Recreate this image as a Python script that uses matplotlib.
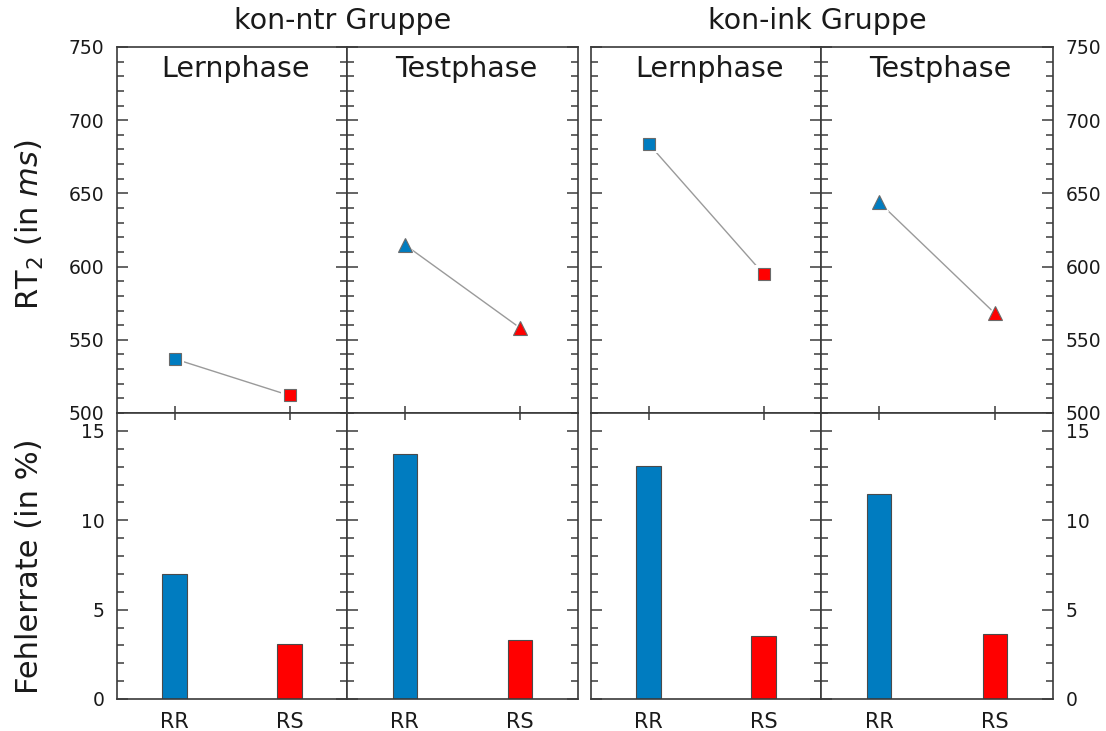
import matplotlib
matplotlib.use("Agg")
import matplotlib.pyplot as plt
from matplotlib.ticker import MultipleLocator

plt.rcParams['font.family'] = ['DejaVu Sans']
plt.rcParams['mathtext.fontset'] = 'dejavusans'

# ---- data -------------------------------------------------------------
groups = ['kon-ntr Gruppe', 'kon-ink Gruppe']
phases = ['Lernphase', 'Testphase']
conditions = ['RR', 'RS']

# reaction times RT2 (ms): [RR, RS]
rt_kon_ntr_lern = [537, 512]
rt_kon_ntr_test = [615, 558]
rt_kon_ink_lern = [684, 595]
rt_kon_ink_test = [644, 568]

# error rates (%): [RR, RS]
err_kon_ntr_lern = [7.0, 3.05]
err_kon_ntr_test = [13.7, 3.3]
err_kon_ink_lern = [13.05, 3.55]
err_kon_ink_test = [11.45, 3.65]

rt_values = [[rt_kon_ntr_lern, rt_kon_ntr_test], [rt_kon_ink_lern, rt_kon_ink_test]]
err_values = [[err_kon_ntr_lern, err_kon_ntr_test], [err_kon_ink_lern, err_kon_ink_test]]
phase_markers = {'Lernphase': 's', 'Testphase': '^'}
phase_msize = {'Lernphase': 8.0, 'Testphase': 10.0}

BLUE = '#007cc0'
RED = '#ff0000'
cond_colors = [BLUE, RED]
SPINE = '#3a3a3a'
TEXT = '#1a1a1a'

# ---- layout (pixels of a 1106 x 731 canvas) ---------------------------
W, H = 1106, 731
fig = plt.figure(figsize=(W / 100, H / 100), dpi=100)
fig.patch.set_facecolor('white')

col_edges = [(117, 347), (347, 578), (591, 821), (821, 1053)]
top_row = (47, 413)
bot_row = (413, 699)


def rect(x0, x1, y0, y1):
    return [x0 / W, 1 - y1 / H, (x1 - x0) / W, (y1 - y0) / H]


def style_axes(ax):
    for s in ax.spines.values():
        s.set_color(SPINE)
        s.set_linewidth(1.2)
    ax.tick_params(axis='both', which='both', colors=SPINE, labelcolor=TEXT,
                   width=1.1)


x = [0, 1]
for g, group in enumerate(groups):
    for p, phase in enumerate(phases):
        col = 2 * g + p
        x0, x1 = col_edges[col]
        left_col = col == 0
        right_col = col == 3

        # ---------- RT panel ----------
        ax = fig.add_axes(rect(x0, x1, *top_row))
        style_axes(ax)
        ax.set_xlim(-0.5, 1.5)
        ax.set_ylim(500, 750)
        ax.yaxis.set_major_locator(MultipleLocator(50))
        ax.yaxis.set_minor_locator(MultipleLocator(10))
        ax.set_xticks(x)
        ax.tick_params(axis='x', which='both', direction='in', bottom=True, top=False,
                       labelbottom=False, length=5)
        ax.tick_params(axis='y', which='both', direction='in', left=True, right=True,
                       labelleft=left_col, labelright=right_col, labelsize=13.5, pad=9)
        ax.tick_params(axis='y', which='major', length=8)
        ax.tick_params(axis='y', which='minor', length=5)

        vals = rt_values[g][p]
        m = phase_markers[phase]
        ms = phase_msize[phase]
        ax.plot(x, vals, color='#9a9a9a', lw=1.0, zorder=1)
        ax.plot(x, vals, ls='none', marker=m, ms=ms + 5, color='white',
                markeredgewidth=0, zorder=2)
        for i in range(2):
            ax.plot(x[i], vals[i], ls='none', marker=m, ms=ms,
                    markerfacecolor=cond_colors[i], markeredgecolor='#6a6a6a',
                    markeredgewidth=0.8, zorder=3)
        ax.text(0.515, 0.918, phase, transform=ax.transAxes, ha='center',
                va='baseline', fontsize=20.5, color=TEXT)

        # ---------- error panel ----------
        bx = fig.add_axes(rect(x0, x1, *bot_row))
        style_axes(bx)
        bx.set_xlim(-0.5, 1.5)
        bx.set_ylim(0, 16)
        bx.yaxis.set_major_locator(MultipleLocator(5))
        bx.yaxis.set_minor_locator(MultipleLocator(1))
        bx.set_xticks(x)
        bx.set_xticklabels(conditions)
        bx.tick_params(axis='x', which='both', direction='in', bottom=False, top=True,
                       labelbottom=True, length=5, labelsize=15, pad=9)
        bx.tick_params(axis='y', which='both', direction='in', left=True, right=True,
                       labelleft=left_col, labelright=right_col, labelsize=13.5, pad=9)
        bx.tick_params(axis='y', which='major', length=8)
        bx.tick_params(axis='y', which='minor', length=5)
        bx.bar(x, err_values[g][p], width=0.21, color=cond_colors,
               edgecolor='#4a4a4a', linewidth=0.8, zorder=2)

    # group title centred over both of its panels
    gx0 = col_edges[2 * g][0]
    gx1 = col_edges[2 * g + 1][1]
    fig.text((gx0 + gx1) / 2 / W - 0.004, 1 - 21 / H, group, ha='center', va='center',
             fontsize=20.5, color=TEXT)

fig.text(30 / W, 1 - 225 / H, r'RT$_2$ (in $\it{ms}$)', rotation=90,
         ha='center', va='center', fontsize=22, color=TEXT)
fig.text(30 / W, 1 - 566 / H, 'Fehlerrate (in %)', rotation=90,
         ha='center', va='center', fontsize=22, color=TEXT)

fig.savefig('out.png', dpi=100, facecolor='white')
